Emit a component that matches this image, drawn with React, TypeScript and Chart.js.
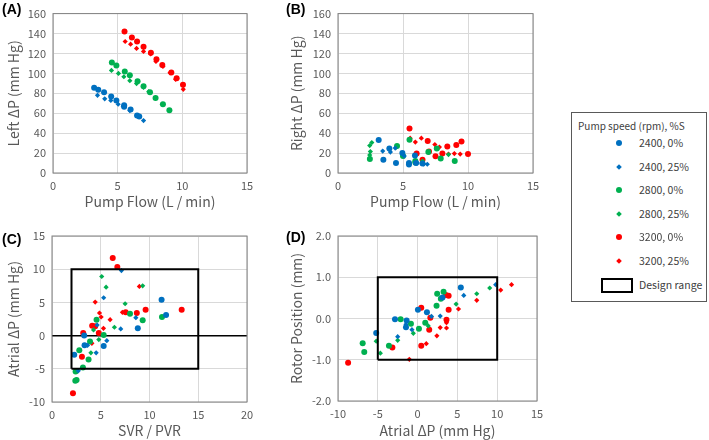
import React, { useEffect, useRef } from "react";
import { Chart, registerables } from "chart.js";
Chart.register(...registerables);

type P = [number, number];

// ---------- Series meta ----------
const seriesLabels = ["2400, 0%", "2400, 25%", "2800, 0%", "2800, 25%", "3200, 0%", "3200, 25%"];
const seriesColors = ["#0070C0", "#0070C0", "#00B050", "#00B050", "#FF0000", "#FF0000"];
const seriesShapes = ["circle", "rectRot", "circle", "rectRot", "circle", "rectRot"];
const legendTitle = "Pump speed (rpm), %S";
const designLabel = "Design range";

// ---------- Panel A: Pump Flow vs Left ΔP ----------
const aBlue0: P[] = [[3.18, 85.6], [3.5, 83.6], [3.95, 81], [4.5, 76.7], [4.9, 72.8], [5.5, 68], [5.5, 66.6], [6.0, 63.7], [6.5, 57.8], [6.67, 56.8]];
const aBlue25: P[] = [[3.44, 78], [4.0, 74.5], [4.47, 72.8], [5.04, 69], [5.43, 67], [5.94, 62.7], [7.0, 52.6]];
const aGreen0: P[] = [[4.55, 111], [4.9, 107.8], [5.55, 102], [5.94, 98], [6.54, 92], [7.0, 87], [7.5, 81], [7.93, 75.4], [8.5, 69], [9.0, 63]];
const aGreen25: P[] = [[4.52, 103], [5.06, 100], [5.48, 96.6], [5.94, 92.7], [6.46, 89.8], [7.0, 86], [7.4, 81.6], [7.93, 75.4], [8.45, 69]];
const aRed0: P[] = [[5.53, 142], [6.1, 136], [6.5, 132], [7.0, 126.7], [7.57, 120.8], [8.0, 114.3], [8.45, 108.4], [9.15, 101], [9.56, 95], [10.05, 88.5]];
const aRed25: P[] = [[5.58, 132], [6.0, 129.3], [6.46, 125], [7.0, 122], [7.55, 119.5], [7.96, 112], [8.5, 107], [9.05, 100.6], [9.48, 94], [10.07, 84]];

// ---------- Panel B: Pump Flow vs Right ΔP ----------
const bBlue0: P[] = [[3.13, 33], [3.49, 13.4], [3.95, 24.5], [4.46, 10], [4.95, 20], [5.46, 10], [5.46, 8.5], [5.92, 17.6], [6.0, 10], [6.5, 9.5]];
const bBlue25: P[] = [[3.44, 22], [4.03, 21], [4.4, 25], [5.1, 17], [5.5, 9], [6.1, 10], [6.87, 8.8], [6.6, 9]];
const bGreen0: P[] = [[2.45, 14], [4.54, 27], [5.0, 17], [5.5, 33.5], [5.95, 12], [5.95, 10.5], [6.95, 21], [7.6, 24.5], [7.9, 14.5], [8.98, 12]];
const bGreen25: P[] = [[2.44, 18], [2.49, 21.5], [2.44, 27.5], [2.6, 30.5], [2.45, 15], [4.5, 26], [5.0, 18.5], [5.95, 11.5], [6.5, 12], [8.5, 18.5]];
const bRed0: P[] = [[5.5, 44.7], [6.05, 19.5], [6.5, 13.4], [6.9, 32], [7.0, 21.5], [7.5, 16.7], [8.03, 19.6], [8.41, 26.5], [9.1, 28], [9.5, 31.5], [10.0, 19]];
const bRed25: P[] = [[5.55, 35], [5.95, 31], [6.41, 35], [7.45, 28.5], [7.8, 26], [8.5, 19], [8.95, 19.5], [9.4, 19], [6.5, 12]];

// ---------- Panel C: SVR/PVR vs Atrial ΔP ----------
const cBlue0: P[] = [[2.28, -2.9], [3.3, 0], [3.34, -1.46], [5.3, -1.56], [8.8, 1.1], [11.24, 5.4], [11.7, 3.1]];
const cBlue25: P[] = [[2.7, -5.3], [3.65, -1.46], [4.53, -2.6], [4.63, 1.6], [5.3, 5.7], [5.62, -0.76], [7.12, 9.8], [7.05, 1.0], [8.6, 2.7]];
const cGreen0: P[] = [[2.39, -6.8], [2.52, -6.67], [2.42, -5.4], [2.8, -2.2], [3.17, -4.8], [3.75, -3.6], [3.9, -0.9], [4.57, 2.37], [5.3, 0.1], [8.0, 3.3], [9.3, 2.3], [11.28, 2.8]];
const cGreen25: P[] = [[2.56, -5.3], [3.99, -2.6], [4.26, 0.86], [4.8, -0.6], [5.1, 8.9], [5.55, 7.3], [6.4, 1.26], [7.5, 4.8], [9.3, 7.5]];
const cRed0: P[] = [[2.15, -8.7], [3.07, -3.2], [3.2, 0.4], [4.12, 1.5], [4.43, 1.4], [4.8, 0.4], [6.23, 11.7], [6.7, 10.35], [7.56, 3.5], [8.7, 3.4], [9.6, 3.9], [13.3, 3.9]];
const cRed25: P[] = [[4.09, -1.16], [4.43, 5.05], [4.87, 3.4], [5.04, 2.8], [5.28, 1.1], [5.96, 2.4], [7.22, 3.5], [8.96, 7.4]];
const designC = { x: [2, 15], y: [-5, 10] };

// ---------- Panel D: Atrial ΔP vs Rotor Position ----------
const dBlue0: P[] = [[-5.2, -0.35], [-2.84, -0.02], [-1.38, -0.05], [-1.46, -0.21], [0.04, 0.21], [1.17, 0.15], [3.13, 0.51], [5.43, 0.75]];
const dBlue25: P[] = [[-2.5, -0.44], [-1.46, -0.14], [-0.71, -0.27], [1.75, 0.05], [2.84, 0.06], [5.8, 0.56], [9.81, 0.82]];
const dGreen0: P[] = [[-6.9, -0.6], [-6.7, -0.81], [-3.6, -0.66], [-2.13, -0.02], [-0.84, -0.13], [0.17, -0.25], [0.96, -0.1], [2.38, 0.31], [2.46, 0.6], [2.92, 0.48], [3.26, 0.65]];
const dGreen25: P[] = [[-5.2, -0.55], [-4.68, -0.84], [-2.5, -0.53], [-0.54, -0.36], [1.34, -0.18], [4.84, 0.35], [7.43, 0.6], [9.06, 0.74]];
const dRed0: P[] = [[-8.73, -1.07], [-3.17, -0.7], [0.46, -0.66], [0.46, 0.26], [1.6, 0.02], [1.46, -0.27], [3.55, 0.57], [3.9, 0.55], [3.9, 0.21], [3.63, -0.03]];
const dRed25: P[] = [[-1.04, -0.99], [1.09, -0.61], [2.42, -0.42], [2.84, -0.22], [3.63, -0.1], [3.63, -0.23], [5.14, 0.23], [7.43, 0.44], [10.44, 0.69], [11.8, 0.82]];
const designD = { x: [-5, 10], y: [-1, 1] };

// ---------- Axis tick settings ----------
const flowTicks = { min: 0, max: 15, step: 5 };
const dpTicks = { min: 0, max: 160, step: 20 };
const svrTicks = { min: 0, max: 20, step: 5 };
const atrialYTicks = { min: -10, max: 15, step: 5 };
const atrialXTicks = { min: -10, max: 15, step: 5 };
const rotorTicks = { min: -2, max: 2, step: 1 };

const FONT = "'Noto Sans CJK JP', 'Noto Sans', sans-serif";
const TICK_COLOR = "#595959";
const GRID_COLOR = "#d9d9d9";
const TITLE_SIZE = 14;
const TITLE_OFF = (TITLE_SIZE * 1.2) / 2;

type Geom = { left: number; top: number; w: number; h: number; plotL: number; plotT: number; plotR: number; plotB: number; yTitleX: number; xTitleY: number };

const framePlugin = {
  id: "frame",
  beforeDatasetsDraw(chart: any) {
    const { ctx, chartArea: a } = chart;
    ctx.save();
    ctx.strokeStyle = "#808080";
    ctx.lineWidth = 1;
    ctx.strokeRect(a.left, a.top, a.right - a.left, a.bottom - a.top);
    ctx.restore();
  },
};

function Panel(props: {
  geom: Geom;
  series: P[][];
  xt: { min: number; max: number; step: number };
  yt: { min: number; max: number; step: number };
  xTitle: string;
  yTitle: string;
  yDecimals?: number;
  zeroLine?: boolean;
  design?: { x: number[]; y: number[] };
}) {
  const ref = useRef<HTMLCanvasElement>(null);
  useEffect(() => {
    const { geom: g, series, xt, yt, design } = props;
    const padLeft = g.yTitleX - TITLE_OFF - g.left;
    const padTop = g.plotT - g.top;
    const padRight = g.left + g.w - g.plotR;
    const axisBottom = g.xTitleY + TITLE_OFF;
    const padBottom = g.top + g.h - axisBottom;
    const yW = g.plotL - (g.left + padLeft);
    const xH = axisBottom - g.plotB;

    const datasets: any[] = series.map((pts, i) => ({
      type: "scatter",
      label: seriesLabels[i],
      data: pts.map(([x, y]) => ({ x, y })),
      pointStyle: seriesShapes[i],
      pointRadius: seriesShapes[i] === "circle" ? 3 : 2.6,
      backgroundColor: seriesColors[i],
      borderColor: seriesColors[i],
      borderWidth: 0,
      order: 1,
    }));
    if (design) {
      const [x0, x1] = design.x;
      const [y0, y1] = design.y;
      datasets.push({
        type: "line",
        label: designLabel,
        data: [
          { x: x0, y: y0 }, { x: x1, y: y0 }, { x: x1, y: y1 }, { x: x0, y: y1 }, { x: x0, y: y0 },
        ],
        borderColor: "#000000",
        borderWidth: 2,
        pointRadius: 0,
        fill: false,
        tension: 0,
        order: 0,
      });
    }

    const tickFont = { family: FONT, size: 11 };
    const titleFont = { family: FONT, size: TITLE_SIZE };

    const chart = new Chart(ref.current as HTMLCanvasElement, {
      type: "scatter",
      data: { datasets },
      options: {
        responsive: false,
        animation: false,
        devicePixelRatio: 1,
        layout: { padding: { left: padLeft, top: padTop, right: padRight, bottom: padBottom } },
        plugins: { legend: { display: false }, tooltip: { enabled: false } },
        scales: {
          x: {
            type: "linear",
            min: xt.min,
            max: xt.max,
            ticks: { stepSize: xt.step, color: TICK_COLOR, font: tickFont, padding: 6, maxRotation: 0 },
            grid: { color: GRID_COLOR, drawTicks: false },
            border: { display: false },
            title: { display: true, text: props.xTitle, color: TICK_COLOR, font: titleFont, padding: 0 },
            afterFit: (s: any) => { s.height = xH; },
          },
          y: {
            type: "linear",
            min: yt.min,
            max: yt.max,
            ticks: {
              stepSize: yt.step,
              color: TICK_COLOR,
              font: tickFont,
              padding: 7,
              callback: (v: any) => (props.yDecimals ? Number(v).toFixed(props.yDecimals) : String(v)),
            },
            grid: {
              color: (c: any) => (props.zeroLine && c.tick && c.tick.value === 0 ? "#000000" : GRID_COLOR),
              lineWidth: (c: any) => (props.zeroLine && c.tick && c.tick.value === 0 ? 1.5 : 1),
              drawTicks: false,
            },
            border: { display: false },
            title: { display: true, text: props.yTitle, color: TICK_COLOR, font: titleFont, padding: 0 },
            afterFit: (s: any) => { s.width = yW; },
          },
        },
      } as any,
      plugins: [framePlugin],
    });
    return () => chart.destroy();
  }, []);
  const g = props.geom;
  return (
    <canvas
      ref={ref}
      width={g.w}
      height={g.h}
      style={{ position: "absolute", left: g.left, top: g.top, width: g.w, height: g.h }}
    />
  );
}

const geomA: Geom = { left: 0, top: 0, w: 262, h: 215, plotL: 53, plotT: 9, plotR: 247, plotB: 173, yTitleX: 14, xTitleY: 202 };
const geomB: Geom = { left: 262, top: 0, w: 290, h: 215, plotL: 338, plotT: 9, plotR: 533, plotB: 173, yTitleX: 297, xTitleY: 202 };
const geomC: Geom = { left: 0, top: 222, w: 262, h: 218, plotL: 52, plotT: 236, plotR: 247, plotB: 402, yTitleX: 14, xTitleY: 430.5 };
const geomD: Geom = { left: 262, top: 222, w: 290, h: 218, plotL: 338, plotT: 236, plotR: 537, plotB: 401, yTitleX: 297, xTitleY: 430.5 };

const panelLabelStyle = (left: number, top: number): React.CSSProperties => ({
  position: "absolute",
  left,
  top,
  fontFamily: "'Liberation Sans', Arial, sans-serif",
  fontWeight: "bold",
  fontSize: 14,
  lineHeight: "16px",
  color: "#000",
});

const LEGEND_TEXT: React.CSSProperties = {
  position: "absolute",
  fontFamily: FONT,
  fontSize: 10.5,
  lineHeight: "16px",
  color: "#404040",
  whiteSpace: "nowrap",
};

function Legend() {
  const rowY = [143, 166.5, 190, 213.5, 237, 260.5];
  return (
    <div style={{ position: "absolute", left: 571, top: 112, width: 134, height: 188, border: "1px solid #595959", background: "#fff" }}>
      <div style={{ ...LEGEND_TEXT, left: 6, top: 5, fontSize: 10 }}>{legendTitle}</div>
      {seriesLabels.map((lab, i) => {
        const cy = rowY[i] - 113;
        const circle = seriesShapes[i] === "circle";
        const size = circle ? 6 : 4;
        return (
          <React.Fragment key={lab}>
            <div
              style={{
                position: "absolute",
                left: 47 - size / 2,
                top: cy - size / 2,
                width: size,
                height: size,
                background: seriesColors[i],
                borderRadius: circle ? "50%" : 0,
                transform: circle ? undefined : "rotate(45deg)",
              }}
            />
            <div style={{ ...LEGEND_TEXT, left: 67, top: cy - 8 }}>{lab}</div>
          </React.Fragment>
        );
      })}
      <div style={{ position: "absolute", left: 29, top: 165, width: 28, height: 11, border: "2px solid #000" }} />
      <div style={{ ...LEGEND_TEXT, left: 67, top: 163.5 }}>{designLabel}</div>
    </div>
  );
}

export default function App() {
  return (
    <div style={{ position: "fixed", left: 0, top: 0, width: 709, height: 440, background: "#fff", overflow: "hidden" }}>
      <Panel geom={geomA} series={[aBlue0, aBlue25, aGreen0, aGreen25, aRed0, aRed25]} xt={flowTicks} yt={dpTicks} xTitle="Pump Flow (L / min)" yTitle="Left ΔP (mm Hg)" />
      <Panel geom={geomB} series={[bBlue0, bBlue25, bGreen0, bGreen25, bRed0, bRed25]} xt={flowTicks} yt={dpTicks} xTitle="Pump Flow (L / min)" yTitle="Right ΔP (mm Hg)" />
      <Panel geom={geomC} series={[cBlue0, cBlue25, cGreen0, cGreen25, cRed0, cRed25]} xt={svrTicks} yt={atrialYTicks} xTitle="SVR / PVR" yTitle="Atrial ΔP (mm Hg)" zeroLine design={designC} />
      <Panel geom={geomD} series={[dBlue0, dBlue25, dGreen0, dGreen25, dRed0, dRed25]} xt={atrialXTicks} yt={rotorTicks} xTitle="Atrial ΔP (mm Hg)" yTitle="Rotor Position (mm)" yDecimals={1} design={designD} />
      <div style={panelLabelStyle(2, 1)}>(A)</div>
      <div style={panelLabelStyle(286, 1)}>(B)</div>
      <div style={panelLabelStyle(2, 231)}>(C)</div>
      <div style={panelLabelStyle(286, 229)}>(D)</div>
      <Legend />
    </div>
  );
}
